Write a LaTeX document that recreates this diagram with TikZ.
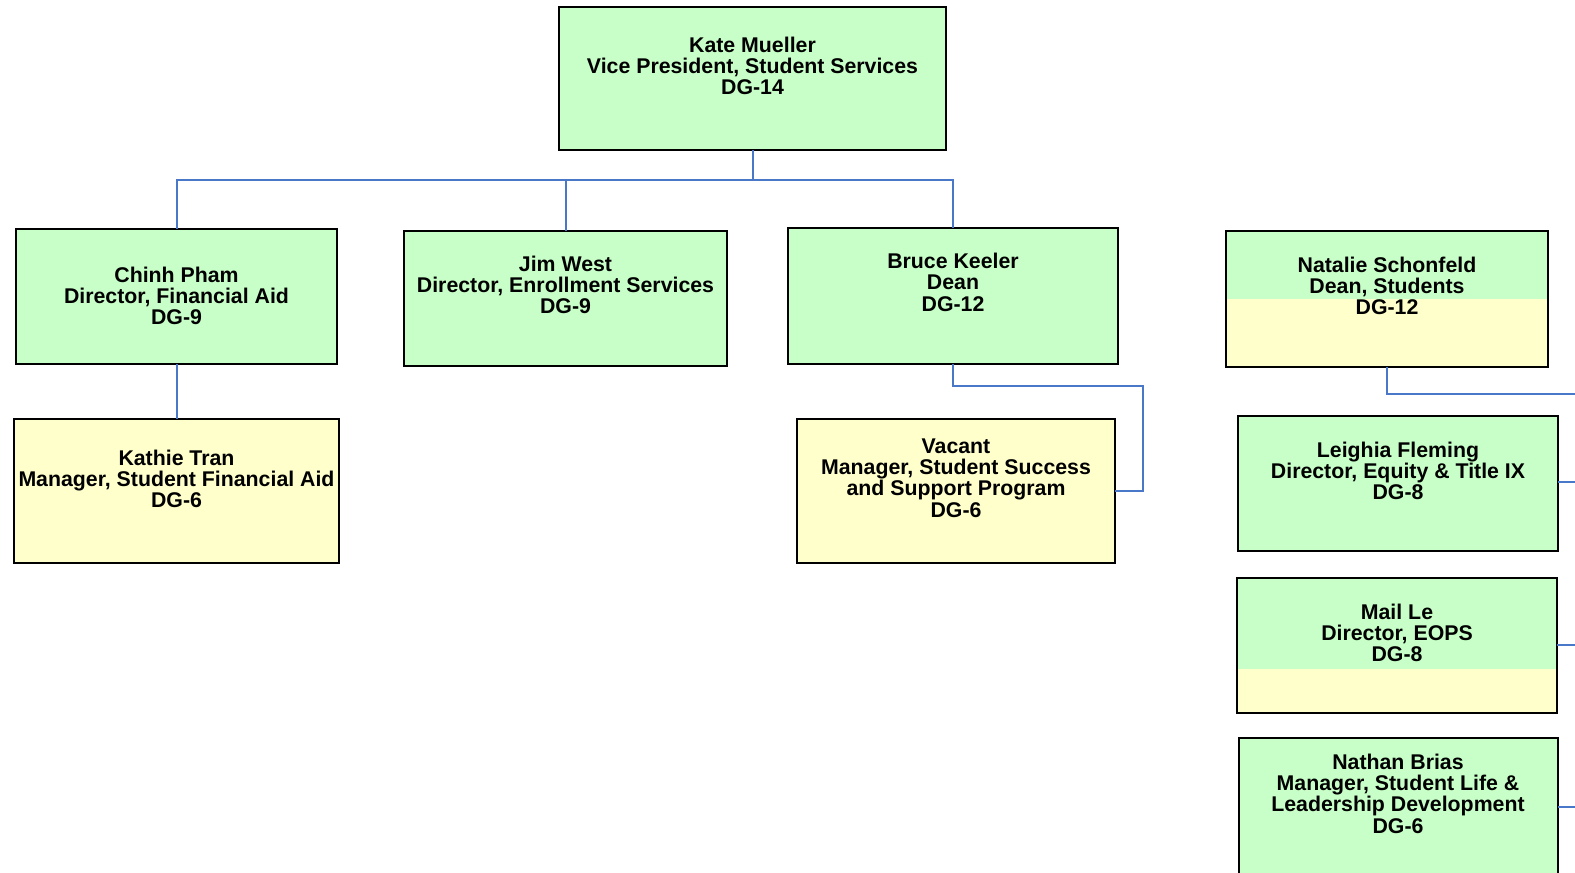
\documentclass[tikz,border=0pt]{standalone}
\usepackage{fontspec}
\setmainfont{Liberation Sans}
\definecolor{boxgreen}{HTML}{C8FFC8}
\definecolor{boxyellow}{HTML}{FFFFCC}
\definecolor{connblue}{HTML}{4A78C8}
\begin{document}
\begin{tikzpicture}[x=1pt,y=-1pt,
  box/.style={draw=black, line width=1.5pt, inner sep=0pt, outer sep=0pt, anchor=north west},
  gbox/.style={box, fill=boxgreen},
  ybox/.style={box, fill=boxyellow},
  obox/.style={box},
  txt/.style={align=center, inner sep=0pt, anchor=north, font=\fontsize{21.3}{21.3}\selectfont\bfseries},
  conn/.style={draw=connblue, line width=2pt}]
\useasboundingbox (0,0) rectangle (1575,873);
\clip (0,0) rectangle (1575,873);
% split fills
\fill[boxgreen] (1226,231) rectangle (1548,299);
\fill[boxyellow] (1226,299) rectangle (1548,367);
\fill[boxgreen] (1237,578) rectangle (1557,669);
\fill[boxyellow] (1237,669) rectangle (1557,713);
% boxes
\node[gbox, minimum width=387pt, minimum height=143pt] (kate) at (559,7) {};
\node[gbox, minimum width=321pt, minimum height=135pt] (chinh) at (16,229) {};
\node[gbox, minimum width=323pt, minimum height=135pt] (jim) at (404,231) {};
\node[gbox, minimum width=330pt, minimum height=136pt] (bruce) at (788,228) {};
\node[obox, minimum width=322pt, minimum height=136pt] (natalie) at (1226,231) {};
\node[ybox, minimum width=325pt, minimum height=144pt] (kathie) at (14,419) {};
\node[ybox, minimum width=318pt, minimum height=144pt] (vacant) at (797,419) {};
\node[gbox, minimum width=320pt, minimum height=135pt] (leighia) at (1238,416) {};
\node[obox, minimum width=320pt, minimum height=135pt] (mail) at (1237,578) {};
\node[gbox, minimum width=319pt, minimum height=160pt] (nathan) at (1239,738) {};
% texts
\node[txt] (kate-t) at (752.5,36.5) {Kate Mueller\\Vice President, Student Services\\DG-14};
\node[txt] (chinh-t) at (176.5,266.5) {Chinh Pham\\Director, Financial Aid\\DG-9};
\node[txt] (jim-t) at (565.5,255.5) {Jim West\\Director, Enrollment Services\\DG-9};
\node[txt] (bruce-t) at (953,253) {Bruce Keeler\\Dean\\DG-12};
\node[txt] (natalie-t) at (1387,256.5) {Natalie Schonfeld\\Dean, Students\\DG-12};
\node[txt] (kathie-t) at (176.5,449.5) {Kathie Tran\\Manager, Student Financial Aid\\DG-6};
\node[txt] (vacant-t) at (956,438.5) {Vacant\\Manager, Student Success\\and Support Program\\DG-6};
\node[txt] (leighia-t) at (1398,441.5) {Leighia Fleming\\Director, Equity \& Title IX\\DG-8};
\node[txt] (mail-t) at (1397,603.5) {Mail Le\\Director, EOPS\\DG-8};
\node[txt] (nathan-t) at (1398,753.5) {Nathan Brias\\Manager, Student Life \&\\Leadership Development\\DG-6};
% connectors
\coordinate (e1) at (1580,394);
\coordinate (e2) at (1580,482);
\coordinate (e3) at (1580,645);
\coordinate (e4) at (1580,807);
\draw[conn] (kate.south) -- ++(0,30) coordinate (bus);
\draw[conn] (chinh.north) |- (bus) -| (bruce.north);
\draw[conn] (jim.north) -- (jim.north |- bus);
\draw[conn] (chinh.south) -- (kathie.north);
\draw[conn] (bruce.south) -- ++(0,22) coordinate (bb) -- (bb -| 1143,0) |- (vacant.east);
\draw[conn] (natalie.south) |- (e1);
\draw[conn] (leighia.east |- e2) -- (e2);
\draw[conn] (mail.east |- e3) -- (e3);
\draw[conn] (nathan.east |- e4) -- (e4);
\end{tikzpicture}
\end{document}
